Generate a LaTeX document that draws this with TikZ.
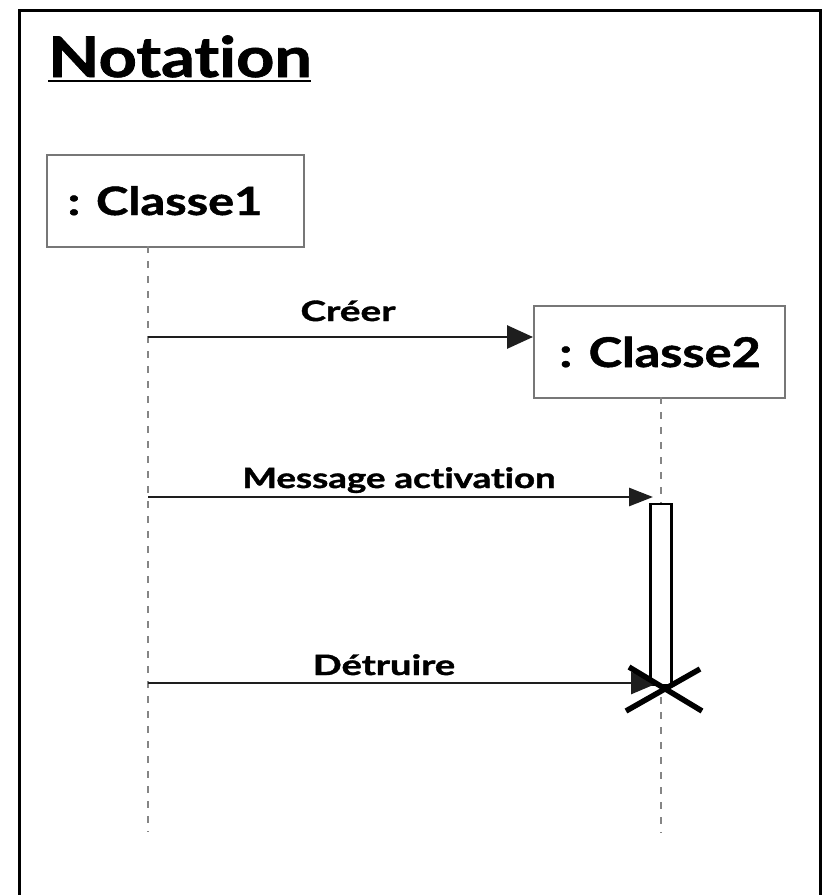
\documentclass[tikz,border=0pt]{standalone}
\usepackage{fontspec}
\setmainfont{Lato}[Ligatures=NoCommon, BoldFeatures={FakeBold=1.2}]
\usetikzlibrary{arrows.meta}
\definecolor{boxgray}{HTML}{777777}
\definecolor{lifegray}{HTML}{858585}
\definecolor{msgdark}{HTML}{1E1E1E}
\tikzset{
  x=1pt, y=-1pt,
  frame/.style={draw=black, line width=3pt},
  objbox/.style={draw=boxgray, line width=2pt, fill=white, inner sep=0pt},
  objtext/.style={inner sep=0pt, anchor=base, font=\bfseries},
  lifeline/.style={draw=lifegray, line width=2.4pt, dash pattern=on 7pt off 8pt},
  msg/.style={draw=msgdark, line width=2.8pt},
  msglabel/.style={inner sep=0pt, anchor=base, font=\fontsize{28}{32}\selectfont\bfseries},
  actbox/.style={draw=black, line width=2.2pt, fill=white, inner sep=0pt},
  killcross/.style={draw=black, line width=5.5pt},
}
\begin{document}
\begin{tikzpicture}
  \useasboundingbox (0,0) rectangle (826,895);
  \fill[white] (0,0) rectangle (826,895);

  % outer frame, running past the lower edge
  \begin{scope}
    \clip (0,0) rectangle (826,895);
    \draw[frame] (19,920) -- (19,10) -- (820,10) -- (820,920);
  \end{scope}

  % title
  \node[inner sep=0pt, anchor=base west, xscale=1.19,
        font=\fontsize{56}{60}\selectfont\bfseries]
    (title) at (48,77) {Notation};
  \coordinate (ulL) at (48,81);
  \coordinate (ulR) at (311,81);
  \draw[line width=2pt] (ulL) -- (ulR);

  % objects
  \node[objbox, minimum width=257pt, minimum height=92pt, anchor=north west]
    (c1) at (46,154) {};
  \node[objtext, xscale=1.25, font=\fontsize{39}{44}\selectfont\bfseries]
    (c1txt) at (165,215) {: Classe1};
  \node[objbox, minimum width=251pt, minimum height=92pt, anchor=north west]
    (c2) at (533,305) {};
  \node[objtext, xscale=1.23, font=\fontsize{41}{46}\selectfont\bfseries]
    (c2txt) at (660,367) {: Classe2};

  % lifelines
  \coordinate (l1top) at (148,246);
  \coordinate (l1end) at (148,832);
  \coordinate (l2top) at (661,397);
  \coordinate (l2end) at (661,833);
  \draw[lifeline] (l1top) -- (l1end);
  \draw[lifeline] (l2top) -- (l2end);

  % activation bar
  \node[actbox, minimum width=21pt, minimum height=181pt, anchor=north]
    (act) at (661,503) {};

  % messages
  \coordinate (m1s) at (148,337);
  \coordinate (m1e) at (c2.west |- m1s);
  \draw[msg, -{Triangle[length=26pt,width=23pt]}] (m1s) -- (m1e);
  \node[msglabel, xscale=1.38] (m1lab) at (348,321) {Créer};

  \coordinate (m2s) at (148,497);
  \coordinate (m2e) at (653,497);
  \draw[msg, -{Triangle[length=24pt,width=18pt]}] (m2s) -- (m2e);
  \node[msglabel, xscale=1.31] (m2lab) at (399,488) {Message activation};

  \coordinate (m3s) at (148,683);
  \coordinate (m3e) at (658,683);
  \draw[msg, -{Triangle[length=27pt,width=22pt]}] (m3s) -- (m3e);
  \node[msglabel, xscale=1.36] (m3lab) at (384,675) {Détruire};

  % destruction mark
  \coordinate (xa) at (626,711);
  \coordinate (xb) at (700,669);
  \coordinate (xc) at (629,667);
  \coordinate (xd) at (702,711);
  \draw[killcross] (xa) -- (xb);
  \draw[killcross] (xc) -- (xd);
\end{tikzpicture}
\end{document}
